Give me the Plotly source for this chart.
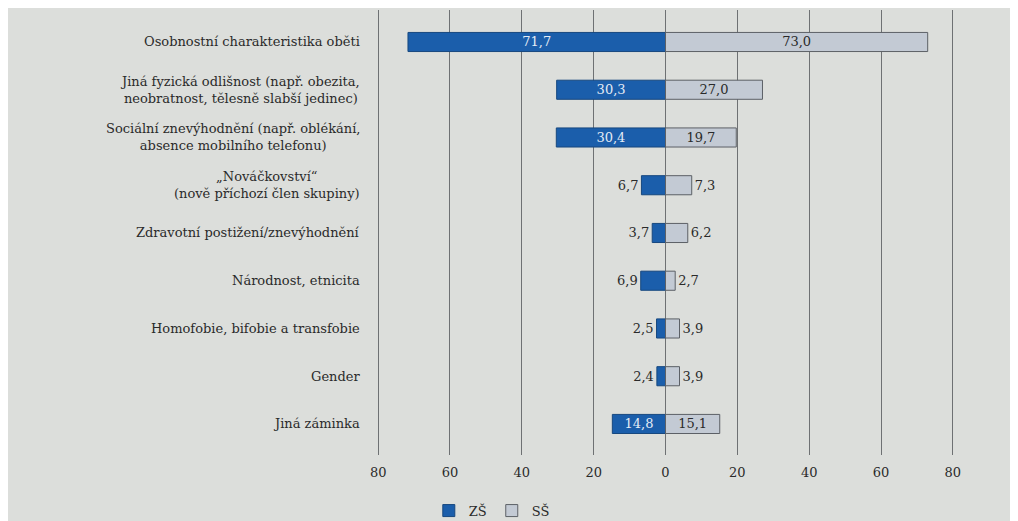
import plotly.graph_objects as go

categories = [
    "Osobnostní charakteristika oběti",
    "Jiná fyzická odlišnost (např. obezita,<br>neobratnost, tělesně slabší jedinec)",
    "Sociální znevýhodnění (např. oblékání,<br>absence mobilního telefonu)",
    "„Nováčkovství“<br>(nově příchozí člen skupiny)",
    "Zdravotní postižení/znevýhodnění",
    "Národnost, etnicita",
    "Homofobie, bifobie a transfobie",
    "Gender",
    "Jiná záminka",
]
zs_values = [71.7, 30.3, 30.4, 6.7, 3.7, 6.9, 2.5, 2.4, 14.8]
ss_values = [73.0, 27.0, 19.7, 7.3, 6.2, 2.7, 3.9, 3.9, 15.1]
tick_vals = [-80, -60, -40, -20, 0, 20, 40, 60, 80]
tick_text = ["80", "60", "40", "20", "0", "20", "40", "60", "80"]

FONT = "DejaVu Serif"
FS = 13
BG = "#dcdedb"
BLUE = "#1b5eab"
LIGHT = "#c3cad4"
GRID = "#6e7173"
TXT = "#2a2a2a"

def fmt(v):
    return f"{v:.1f}".replace(".", ",")

def pos(v):
    return "inside" if v >= 10 else "outside"

fig = go.Figure()
fig.add_trace(go.Bar(
    name="ZŠ", orientation="h",
    y=categories, x=[-v for v in zs_values],
    text=[fmt(v) for v in zs_values],
    textposition=[pos(v) for v in zs_values],
    insidetextanchor="middle", constraintext="none",
    insidetextfont=dict(family=FONT, size=FS, color="#e4ebf5"),
    outsidetextfont=dict(family=FONT, size=FS, color=TXT),
    marker=dict(color=BLUE, line=dict(color="#17487f", width=1)),
    width=0.4, cliponaxis=False,
))
fig.add_trace(go.Bar(
    name="SŠ", orientation="h",
    y=categories, x=ss_values,
    text=[fmt(v) for v in ss_values],
    textposition=[pos(v) for v in ss_values],
    insidetextanchor="middle", constraintext="none",
    insidetextfont=dict(family=FONT, size=FS, color=TXT),
    outsidetextfont=dict(family=FONT, size=FS, color=TXT),
    marker=dict(color=LIGHT, line=dict(color="#5c6066", width=1)),
    width=0.4, cliponaxis=False,
))

annotations = []
for c in categories:
    annotations.append(dict(
        x=0, xref="paper", xanchor="right", xshift=-14,
        y=c, yref="y", yanchor="middle",
        text=c, showarrow=False, align="center",
        font=dict(family=FONT, size=FS, color=TXT),
    ))

fig.update_layout(
    width=1018, height=521,
    barmode="overlay",
    paper_bgcolor=BG, plot_bgcolor=BG,
    margin=dict(l=368, r=71, t=2, b=74),
    font=dict(family=FONT, size=FS, color=TXT),
    xaxis=dict(
        range=[-80.6, 80.6], tickvals=tick_vals, ticktext=tick_text,
        showgrid=True, gridcolor=GRID, gridwidth=1,
        zeroline=True, zerolinecolor=GRID, zerolinewidth=1,
        showline=False, ticks="", ticklabelstandoff=8,
        tickfont=dict(family=FONT, size=FS, color=TXT),
    ),
    yaxis=dict(
        type="category", categoryorder="array", categoryarray=categories,
        range=[8.65, -0.67], showticklabels=False, showgrid=False,
        zeroline=False, ticks="",
    ),
    legend=dict(
        orientation="h", x=0.2, xanchor="center", y=-0.125, yanchor="middle",
        font=dict(family=FONT, size=FS, color=TXT), bgcolor="rgba(0,0,0,0)",
        itemwidth=30, tracegroupgap=0,
    ),
    annotations=annotations,
    showlegend=True,
)

fig.write_html("out.html")
